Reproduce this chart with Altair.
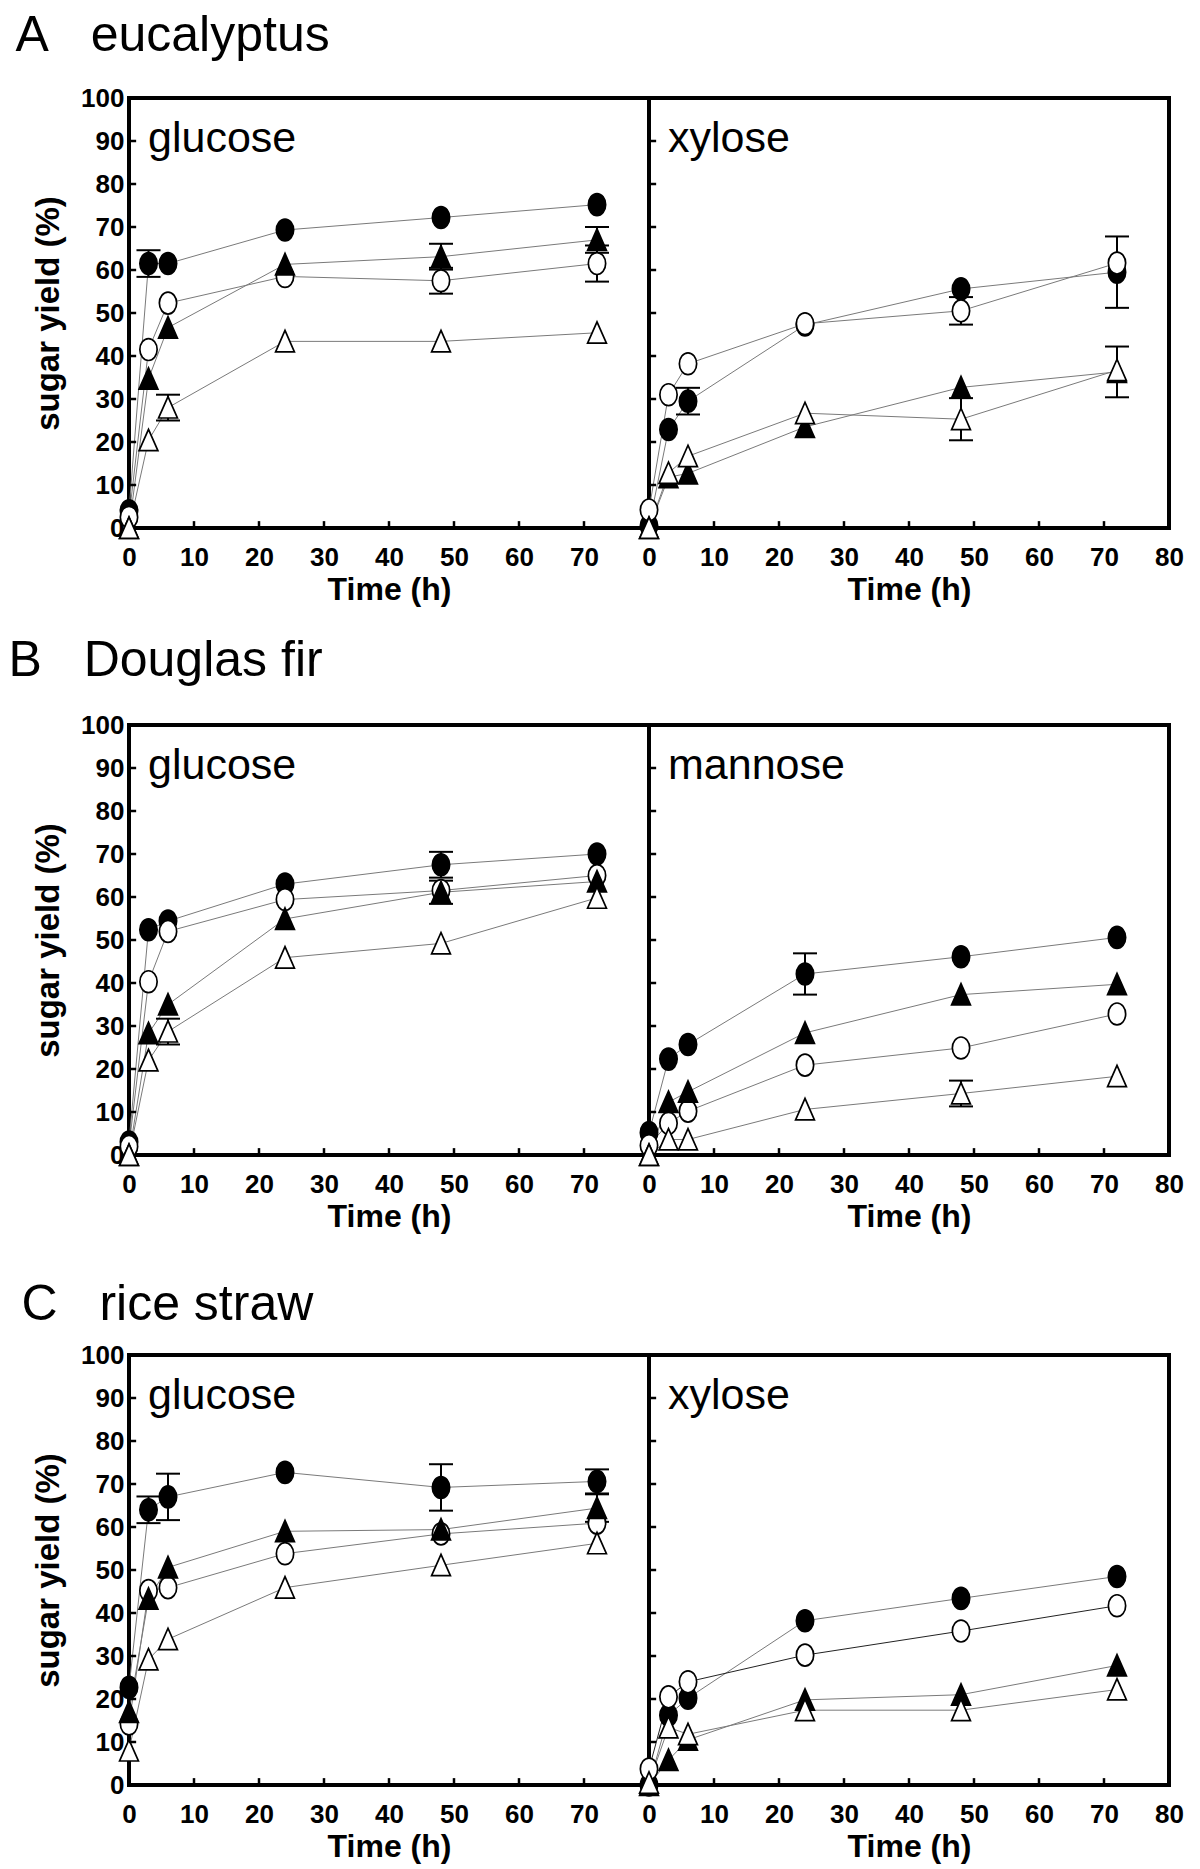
import altair as alt
import pandas as pd

# ---------------- data ----------------
TIME = [0, 3, 6, 24, 48, 72]
SERIES = ["filled circle", "open circle", "filled triangle", "open triangle"]

# A eucalyptus
A_glu_fc = [4.0, 61.5, 61.5, 69.3, 72.2, 75.2]
A_glu_oc = [2.5, 41.5, 52.3, 58.5, 57.5, 61.5]
A_glu_ft = [0.0, 34.7, 46.6, 61.3, 63.1, 67.0]
A_glu_ot = [0.0, 20.4, 28.0, 43.4, 43.4, 45.4]

A_xyl_fc = [0.5, 22.9, 29.5, 47.2, 55.6, 59.5]
A_xyl_oc = [4.2, 31.0, 38.2, 47.5, 50.5, 61.6]
A_xyl_ft = [0.0, 11.8, 12.7, 23.5, 32.7, 36.3]
A_xyl_ot = [0.0, 12.8, 16.7, 26.7, 25.3, 36.7]

# B Douglas fir
B_glu_fc = [3.0, 52.4, 54.4, 63.0, 67.5, 70.0]
B_glu_oc = [2.0, 40.3, 52.0, 59.4, 61.5, 65.0]
B_glu_ft = [0.0, 28.3, 35.0, 54.9, 61.1, 63.6]
B_glu_ot = [0.0, 22.0, 28.7, 45.9, 49.2, 59.8]

B_man_fc = [5.2, 22.3, 25.7, 42.1, 46.1, 50.6]
B_man_oc = [2.2, 7.4, 10.2, 20.9, 24.9, 32.8]
B_man_ft = [0.0, 12.3, 14.7, 28.4, 37.3, 39.7]
B_man_ot = [0.0, 3.6, 3.6, 10.6, 14.3, 18.3]

# C rice straw
C_glu_fc = [22.7, 64.0, 67.0, 72.7, 69.2, 70.6]
C_glu_oc = [14.2, 45.2, 45.9, 53.8, 58.4, 60.9]
C_glu_ft = [17.0, 43.3, 50.6, 59.0, 59.4, 64.4]
C_glu_ot = [8.0, 29.2, 33.9, 45.9, 51.1, 56.2]

C_xyl_fc = [0.0, 16.2, 20.2, 38.2, 43.4, 48.5]
C_xyl_oc = [3.7, 20.5, 24.0, 30.2, 35.8, 41.7]
C_xyl_ft = [0.0, 5.8, 10.5, 19.8, 21.0, 27.8]
C_xyl_ot = [0.5, 13.4, 11.8, 17.4, 17.4, 22.2]

# error bars: (panel, series, time, +/- error)
ERR_PANEL = ["Aglu", "Aglu", "Aglu", "Aglu", "Aglu", "Aglu",
             "Axyl", "Axyl", "Axyl", "Axyl", "Axyl",
             "Bglu", "Bglu", "Bglu",
             "Bman", "Bman",
             "Cglu", "Cglu", "Cglu", "Cglu", "Cglu"]
ERR_SERIES = ["filled circle", "open triangle", "filled triangle", "open circle", "filled triangle", "open circle",
              "filled circle", "open circle", "filled circle", "filled triangle", "open triangle",
              "filled circle", "open triangle", "filled triangle",
              "filled circle", "open triangle",
              "filled circle", "filled circle", "filled circle", "filled circle", "filled triangle"]
ERR_TIME = [3, 6, 48, 48, 72, 72,
            6, 48, 72, 72, 48,
            48, 6, 48,
            24, 48,
            3, 6, 48, 72, 72]
ERR_SIZE = [3.1, 3.0, 3.0, 3.0, 3.0, 4.2,
            3.1, 3.2, 8.3, 5.9, 4.9,
            3.0, 3.0, 2.7,
            4.8, 3.0,
            3.1, 5.4, 5.4, 2.8, 3.2]

Y_TICKS = [0, 10, 20, 30, 40, 50, 60, 70, 80, 90, 100]
X_TICKS_LEFT = [0, 10, 20, 30, 40, 50, 60, 70]
X_TICKS_RIGHT = [0, 10, 20, 30, 40, 50, 60, 70, 80]
INNER_Y = [10, 20, 30, 40, 50, 60, 70, 80, 90]
INNER_X = [10, 20, 30, 40, 50, 60, 70]

PANELS = {
    "Aglu": ("glucose", [A_glu_fc, A_glu_oc, A_glu_ft, A_glu_ot]),
    "Axyl": ("xylose", [A_xyl_fc, A_xyl_oc, A_xyl_ft, A_xyl_ot]),
    "Bglu": ("glucose", [B_glu_fc, B_glu_oc, B_glu_ft, B_glu_ot]),
    "Bman": ("mannose", [B_man_fc, B_man_oc, B_man_ft, B_man_ot]),
    "Cglu": ("glucose", [C_glu_fc, C_glu_oc, C_glu_ft, C_glu_ot]),
    "Cxyl": ("xylose", [C_xyl_fc, C_xyl_oc, C_xyl_ft, C_xyl_ot]),
}
# darker connecting line (rice straw xylose, open circles)
DARK_LINES = [("Cxyl", "open circle")]

# row title, left panel, right panel, title dx, title offset
ROWS = [
    ("A\u00a0\u00a0\u00a0eucalyptus", "Aglu", "Axyl", -15, 22),
    ("B\u00a0\u00a0\u00a0Douglas fir", "Bglu", "Bman", -22, 24.5),
    ("C\u00a0\u00a0\u00a0rice straw", "Cglu", "Cxyl", -9, 10.5),
]

# ---------------- styling ----------------
FONT = "Liberation Sans"
ELLIPSE = ("M0,-1C0.436,-1,0.79,-0.552,0.79,0C0.79,0.552,0.436,1,0,1"
           "C-0.436,1,-0.79,0.552,-0.79,0C-0.79,-0.552,-0.436,-1,0,-1Z")
TRI = "M0,-1L0.86,0.95L-0.86,0.95Z"
W, H = 520, 430
CAP_HALF = 1.85   # half cap width, in hours
TICK_X_LEN = 1.1  # inward y-tick length, in hours
TICK_Y_LEN = 1.6  # inward x-tick length, in %

shape_scale = alt.Scale(domain=SERIES, range=[ELLIPSE, ELLIPSE, TRI, TRI])
fill_scale = alt.Scale(domain=SERIES, range=["black", "white", "black", "white"])
XS = alt.Scale(domain=[0, 80], nice=False, zero=False)
YS = alt.Scale(domain=[0, 100], nice=False)


def panel_frames(key):
    rows = []
    label, series_vals = PANELS[key]
    for s, vals in zip(SERIES, series_vals):
        dark = (key, s) in DARK_LINES
        for t, v in zip(TIME, vals):
            rows.append({"series": s, "t": t, "v": v, "dark": dark})
    df = pd.DataFrame(rows)
    erows = []
    for p, s, t, e in zip(ERR_PANEL, ERR_SERIES, ERR_TIME, ERR_SIZE):
        if p != key:
            continue
        v = series_vals[SERIES.index(s)][TIME.index(t)]
        erows.append({"series": s, "t": t, "lo": v - e, "hi": v + e})
    return label, df, erows


def make_panel(key, left):
    label, df, erows = panel_frames(key)
    xaxis = alt.Axis(values=X_TICKS_LEFT if left else X_TICKS_RIGHT,
                     title="Time (h)", labelFontSize=26, labelFontWeight="bold",
                     labelFont=FONT, labelPadding=16, ticks=False, domain=False,
                     grid=False, titleFontSize=32, titleFontWeight="bold",
                     titleFont=FONT, titlePadding=4, labelFlush=False,
                     labelColor="black", titleColor="black")
    if left:
        yaxis = alt.Axis(values=Y_TICKS, title="sugar yield (%)", labelFontSize=26,
                         labelFontWeight="bold", labelFont=FONT, labelPadding=5,
                         ticks=False, domain=False, grid=False, titleFontSize=33,
                         titleFontWeight="bold", titleFont=FONT, titlePadding=15,
                         labelColor="black", titleColor="black")
    else:
        yaxis = None

    def X(field):
        return alt.X(field, scale=XS, axis=xaxis)

    def Y(field):
        return alt.Y(field, scale=YS, axis=yaxis)

    base = alt.Chart(df)
    lines = base.mark_line(strokeWidth=1).encode(
        x=X("t:Q"), y=Y("v:Q"), detail="series:N",
        color=alt.Color("dark:N", scale=alt.Scale(domain=[False, True],
                                                  range=["#7a7a7a", "#222222"]),
                        legend=None),
        strokeWidth=alt.StrokeWidth("dark:N", scale=alt.Scale(domain=[False, True],
                                                              range=[1, 1.5]),
                                    legend=None))
    layers = [lines]

    if erows:
        edf = pd.DataFrame(erows)
        eb = alt.Chart(edf)
        stems = eb.mark_rule(color="black", strokeWidth=2).encode(
            x=X("t:Q"), y=Y("lo:Q"), y2="hi:Q")
        caps_lo = eb.transform_calculate(
            xa=f"datum.t - {CAP_HALF}", xb=f"datum.t + {CAP_HALF}").mark_rule(
            color="black", strokeWidth=2).encode(x=X("xa:Q"), x2="xb:Q", y=Y("lo:Q"))
        caps_hi = eb.transform_calculate(
            xa=f"datum.t - {CAP_HALF}", xb=f"datum.t + {CAP_HALF}").mark_rule(
            color="black", strokeWidth=2).encode(x=X("xa:Q"), x2="xb:Q", y=Y("hi:Q"))
        layers += [stems, caps_lo, caps_hi]

    pts = base.mark_point(filled=True, stroke="black", strokeWidth=1.7,
                          size=480, opacity=1).encode(
        x=X("t:Q"), y=Y("v:Q"),
        shape=alt.Shape("series:N", scale=shape_scale, legend=None),
        fill=alt.Fill("series:N", scale=fill_scale, legend=None))
    layers.append(pts)

    ytick_df = pd.DataFrame({"yv": INNER_Y})
    xtick_df = pd.DataFrame({"xv": INNER_X})
    yt = alt.Chart(ytick_df).transform_calculate(
        xa="0", xb=f"{TICK_X_LEN}").mark_rule(color="black", strokeWidth=2.5).encode(
        x=X("xa:Q"), x2="xb:Q", y=Y("yv:Q"))
    xt = alt.Chart(xtick_df).transform_calculate(
        ya="0", yb=f"{TICK_Y_LEN}").mark_rule(color="black", strokeWidth=2.5).encode(
        x=X("xv:Q"), y=Y("ya:Q"), y2="yb:Q")
    txt = alt.Chart(pd.DataFrame({"name": [label]})).mark_text(
        font=FONT, fontSize=43, align="left", baseline="alphabetic",
        color="black").encode(x=alt.value(19), y=alt.value(54), text="name:N")
    layers += [yt, xt, txt]
    return alt.layer(*layers).properties(width=W, height=H)


rows = []
for title, lk, rk, dx, off in ROWS:
    row = alt.hconcat(make_panel(lk, True), make_panel(rk, False), spacing=0,
                      bounds="flush").properties(
        title=alt.TitleParams(text=title, anchor="start", fontSize=50, font=FONT,
                              fontWeight="normal", color="black", dx=dx, offset=off))
    rows.append(row)

top_two = alt.vconcat(rows[0], rows[1], spacing=28)
chart = alt.vconcat(top_two, rows[2], spacing=45).properties(
    padding={"left": 0, "top": 3, "right": 0, "bottom": 0},
    background="white").configure_view(
    stroke="black", strokeWidth=4).configure_text(font=FONT)

chart.save("out.html", embed_options={"renderer": "svg", "actions": False})
